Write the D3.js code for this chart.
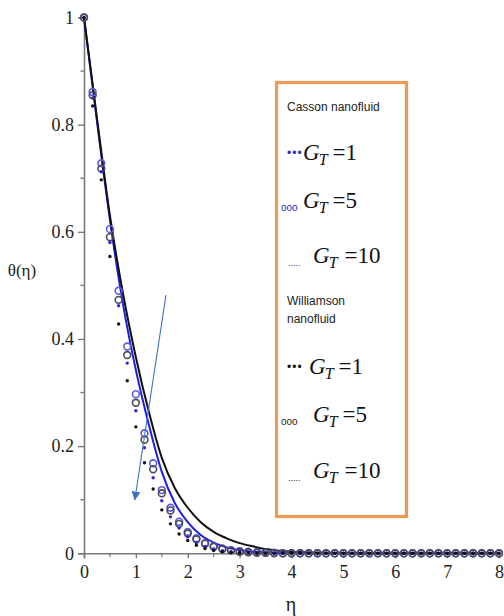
<!DOCTYPE html>
<html>
<head>
<meta charset="utf-8">
<script src="https://cdn.jsdelivr.net/npm/d3@7"></script>
<style>
  html, body { margin: 0; padding: 0; background: #fff; }
  svg { display: block; }
</style>
</head>
<body>
<svg id="chart" width="504" height="616"></svg>
<script>
// Temperature profiles θ(η) for Casson and Williamson nanofluids at G_T = 1, 5, 10

// Marker grid: η from 0 to 8 in steps of 1/6 (49 samples)
const markerEta = d3.range(49).map(i => i / 6);

const cassonG1 = [1.000, 0.850, 0.712, 0.580, 0.462, 0.355, 0.266, 0.197, 0.141, 0.098,
  0.068, 0.047, 0.031, 0.020, 0.013, 0.008, 0.005, 0.003, 0.002, 0.001, 0.001,
  0, 0, 0, 0, 0, 0, 0, 0, 0, 0, 0, 0, 0, 0, 0, 0, 0, 0, 0, 0, 0, 0, 0, 0, 0, 0, 0, 0];
const cassonG5 = [1.000, 0.861, 0.728, 0.605, 0.490, 0.386, 0.297, 0.224, 0.168, 0.118,
  0.085, 0.059, 0.040, 0.028, 0.019, 0.013, 0.009, 0.006, 0.004, 0.003, 0.002, 0.001, 0.001,
  0, 0, 0, 0, 0, 0, 0, 0, 0, 0, 0, 0, 0, 0, 0, 0, 0, 0, 0, 0, 0, 0, 0, 0, 0, 0];
const williamsonG1 = [1.000, 0.835, 0.697, 0.554, 0.428, 0.322, 0.236, 0.169, 0.120, 0.081,
  0.055, 0.036, 0.024, 0.015, 0.009, 0.005, 0.003, 0.002, 0.001, 0.001,
  0, 0, 0, 0, 0, 0, 0, 0, 0, 0, 0, 0, 0, 0, 0, 0, 0, 0, 0, 0, 0, 0, 0, 0, 0, 0, 0, 0, 0];
const williamsonG5 = [1.000, 0.855, 0.718, 0.590, 0.473, 0.370, 0.281, 0.212, 0.157, 0.112,
  0.080, 0.055, 0.037, 0.026, 0.018, 0.012, 0.008, 0.005, 0.003, 0.002, 0.001, 0.001,
  0, 0, 0, 0, 0, 0, 0, 0, 0, 0, 0, 0, 0, 0, 0, 0, 0, 0, 0, 0, 0, 0, 0, 0, 0, 0, 0];

// Continuous curves (G_T = 10), η step 0.25
const lineEta = d3.range(33).map(i => i * 0.25);
const cassonG10 = [1.000, 0.806, 0.622, 0.466, 0.342, 0.240, 0.152, 0.094, 0.058, 0.034,
  0.020, 0.011, 0.006, 0.003, 0.002, 0.001, 0.001, 0, 0, 0, 0, 0, 0, 0, 0, 0, 0, 0, 0, 0, 0, 0, 0];
const williamsonG10 = [1.000, 0.812, 0.630, 0.486, 0.366, 0.264, 0.178, 0.122, 0.085, 0.058,
  0.040, 0.028, 0.019, 0.013, 0.008, 0.005, 0.003, 0.002, 0.001, 0.001, 0, 0, 0, 0, 0, 0, 0, 0, 0, 0, 0, 0, 0];

const xTicks = [0, 1, 2, 3, 4, 5, 6, 7, 8];
const yTicks = [0, 0.2, 0.4, 0.6, 0.8, 1];
const yTickLabels = ["0", "0.2", "0.4", "0.6", "0.8", "1"];

// Arrow showing the trend (from, to) in data units
const arrowFrom = [1.58, 0.482];
const arrowTo = [0.98, 0.10];

const svg = d3.select("#chart");
const x = d3.scaleLinear().domain([0, 8]).range([84, 499]);
const y = d3.scaleLinear().domain([0, 1]).range([553.3, 17.5]);

const serif = "Liberation Serif, Times New Roman, serif";
const sans = "Liberation Sans, Arial, sans-serif";
const axisColor = "#7a7a7a";

// Axes
const gx = svg.append("g").attr("transform", `translate(0,${y(0)})`)
  .call(d3.axisBottom(x).tickValues(xTicks).tickSize(5).tickFormat(d3.format("d")));
const gy = svg.append("g").attr("transform", `translate(${x(0)},0)`)
  .call(d3.axisLeft(y).tickValues(yTicks).tickSize(6).tickFormat((d, i) => yTickLabels[i]));

[gx, gy].forEach(g => {
  g.attr("font-family", serif).attr("font-size", 18);
  g.select(".domain").attr("stroke", axisColor).attr("stroke-width", 1.6);
  g.selectAll(".tick line").attr("stroke", axisColor).attr("stroke-width", 1.4);
  g.selectAll(".tick text").attr("fill", "#222");
});
gx.selectAll(".tick text").attr("dy", "0.95em");
gy.selectAll(".tick text").attr("x", -10);

// Minor ticks
svg.append("g").selectAll("line").data(d3.range(0.5, 8, 1)).join("line")
  .attr("x1", d => x(d)).attr("x2", d => x(d))
  .attr("y1", y(0)).attr("y2", y(0) + 3.5)
  .attr("stroke", axisColor).attr("stroke-width", 1.4);
svg.append("g").selectAll("line").data([0.1, 0.3, 0.5, 0.7, 0.9]).join("line")
  .attr("x1", x(0) - 3.5).attr("x2", x(0))
  .attr("y1", d => y(d)).attr("y2", d => y(d))
  .attr("stroke", axisColor).attr("stroke-width", 1.4);

// Axis titles
svg.append("text").attr("x", 291).attr("y", 611).attr("text-anchor", "middle")
  .attr("font-family", serif).attr("font-size", 20).attr("fill", "#222").text("η");
svg.append("text").attr("x", 22).attr("y", 276).attr("text-anchor", "middle")
  .attr("font-family", serif).attr("font-size", 17).attr("fill", "#222").text("θ(η)");

// Curves
const line = d3.line().x(d => x(d[0])).y(d => y(d[1])).curve(d3.curveMonotoneX);
svg.append("path").datum(lineEta.map((e, i) => [e, cassonG10[i]]))
  .attr("d", line).attr("fill", "none").attr("stroke", "#1f1fe0").attr("stroke-width", 2);
svg.append("path").datum(lineEta.map((e, i) => [e, williamsonG10[i]]))
  .attr("d", line).attr("fill", "none").attr("stroke", "#111").attr("stroke-width", 2);

// Markers
function circles(vals, color) {
  svg.append("g").selectAll("circle").data(markerEta.map((e, i) => [e, vals[i]])).join("circle")
    .attr("cx", d => x(d[0])).attr("cy", d => y(d[1])).attr("r", 3.4)
    .attr("fill", "none").attr("stroke", color).attr("stroke-width", 1.6);
}
function dots(vals, color) {
  svg.append("g").selectAll("circle").data(markerEta.map((e, i) => [e, vals[i]])).join("circle")
    .attr("cx", d => x(d[0])).attr("cy", d => y(d[1])).attr("r", 1.7)
    .attr("fill", color);
}
circles(cassonG5, "#5b5be0");
circles(williamsonG5, "#4a4a5a");
dots(cassonG1, "#2a2ad0");
dots(williamsonG1, "#111");

// Trend arrow
svg.append("defs").append("marker")
  .attr("id", "head").attr("viewBox", "0 0 10 10").attr("refX", 9).attr("refY", 5)
  .attr("markerWidth", 9).attr("markerHeight", 9).attr("markerUnits", "userSpaceOnUse")
  .attr("orient", "auto")
  .append("path").attr("d", "M0,0 L10,5 L0,10 Z").attr("fill", "#4072c4");
svg.append("line")
  .attr("x1", x(arrowFrom[0])).attr("y1", y(arrowFrom[1]))
  .attr("x2", x(arrowTo[0])).attr("y2", y(arrowTo[1]))
  .attr("stroke", "#4072c4").attr("stroke-width", 1.1).attr("marker-end", "url(#head)");

// Legend
const lg = svg.append("g");
lg.append("rect").attr("x", 276.5).attr("y", 82.5).attr("width", 130).attr("height", 434)
  .attr("fill", "#fff").attr("stroke", "#ef9a52").attr("stroke-width", 3.2);

function heading(lines, yy) {
  lines.forEach((t, i) => lg.append("text").attr("x", 287).attr("y", yy + i * 18)
    .attr("font-family", sans).attr("font-size", 12).attr("fill", "#222").text(t));
}
function entry(sym, symX, symY, symColor, symSize, spacing, gx0, base, value, gap) {
  lg.append("text").attr("x", symX).attr("y", symY)
    .attr("font-family", sans).attr("font-size", symSize).attr("letter-spacing", spacing)
    .attr("fill", symColor).text(sym);
  const t = lg.append("text").attr("x", gx0).attr("y", base)
    .attr("font-family", serif).attr("font-size", 23).attr("fill", "#111");
  t.append("tspan").attr("font-style", "italic").text("G");
  t.append("tspan").attr("font-style", "italic").attr("font-size", 16).attr("dy", 5).attr("dx", -1).text("T");
  t.append("tspan").attr("dy", -5).attr("dx", gap).text("=" + value);
}

heading(["Casson nanofluid"], 111);
entry("•••", 287, 157, "#2a2ad0", 12, 1, 303, 160, "1", 5);
entry("ooo", 281, 211, "#2a2ad0", 10, 0, 303, 208, "5", 5);
entry(".....", 288, 266, "#2a2ad0", 9, 0, 313, 263, "10", 7);

heading(["Williamson", "nanofluid"], 305);
entry("•••", 287, 371, "#111", 12, 1, 309, 374, "1", 5);
entry("ooo", 281, 425, "#222", 10, 0, 313, 422, "5", 5);
entry(".....", 288, 481, "#222", 9, 0, 313, 478, "10", 7);
</script>
</body>
</html>
